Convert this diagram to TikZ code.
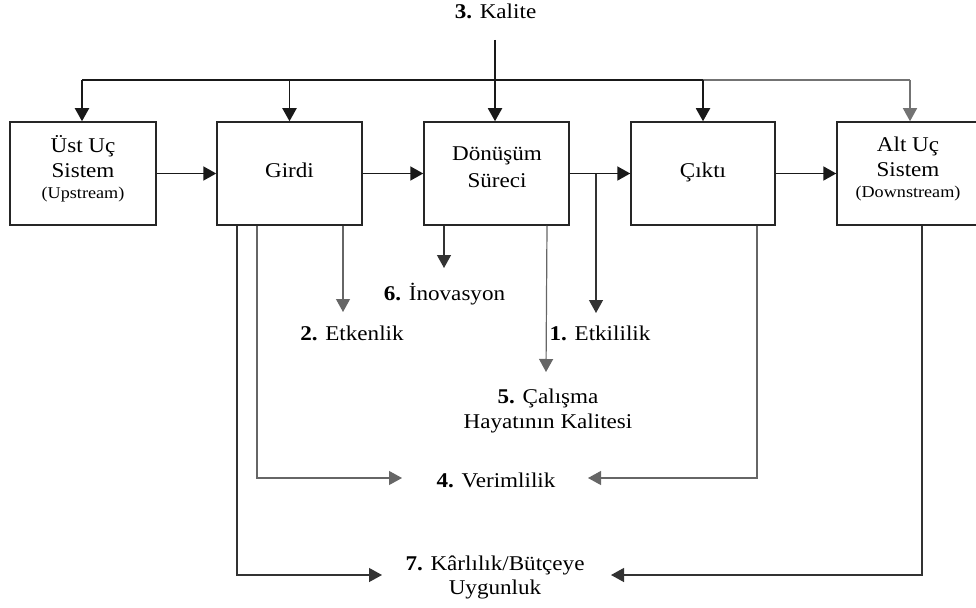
\documentclass[tikz,border=0pt]{standalone}
\usepackage{fontspec}
\setmainfont{Liberation Serif}[FakeStretch=1.1]
\usetikzlibrary{arrows.meta}

\begin{document}
\begin{tikzpicture}[x=1pt,y=-1pt,
  box/.style={draw=black!85, line width=1.5pt, minimum height=103pt, inner sep=0pt},
  txt/.style={font=\fontsize{21}{25}\selectfont, align=center, inner sep=0pt, anchor=base},
  small/.style={font=\fontsize{16.5}{20}\selectfont, inner sep=0pt, anchor=base},
  tip/.style={-{Triangle[length=13pt,width=14pt]}},
  busline/.style={line width=1.9pt, black!90},
  busgray/.style={line width=1.3pt, black!55},
  arr/.style={tip, line width=1.9pt, black!90},
  thin/.style={tip, line width=1.3pt, black!80},
  thingray/.style={tip, line width=1.2pt, black!60},
]
\useasboundingbox (0,0) rectangle (976,607);

% process chain
\node[box, minimum width=146pt] (ust) at (83,173.5) {};
\node[box, minimum width=145pt] (girdi) at (289.5,173.5) {};
\node[box, minimum width=145pt] (donusum) at (496.5,173.5) {};
\node[box, minimum width=144pt] (cikti) at (703,173.5) {};
\node[box, minimum width=150pt] (alt) at (912,173.5) {};

% box captions (multi-line nodes sit on their last baseline)
\node[txt] (ustT) at (83,177) {Üst Uç\\Sistem};
\node[small] (ustS) at (83,198) {(Upstream)};
\node[txt] (girdiT) at (289.5,177) {Girdi};
\node[txt, font=\fontsize{21}{27}\selectfont] (donT) at (497,187) {Dönüşüm\\Süreci};
\node[txt] (ciktiT) at (703,177) {Çıktı};
\node[txt] (altT) at (908,176) {Alt Uç\\Sistem};
\node[small] (altS) at (908,197) {(Downstream)};

% performance criteria
\node[txt] (kalite) at (495.5,19) {\textbf{3.} Kalite};
\node[txt] (inov) at (444.5,300) {\textbf{6.} İnovasyon};
\node[txt] (etken) at (352,340) {\textbf{2.} Etkenlik};
\node[txt] (etkili) at (600,340) {\textbf{1.} Etkililik};
\node[txt] (calisma) at (548,428) {\textbf{5.} Çalışma\\Hayatının Kalitesi};
\node[txt] (verim) at (496,487) {\textbf{4.} Verimlilik};
\node[txt, font=\fontsize{21}{24}\selectfont] (karlilik) at (495,594) {\textbf{7.} Kârlılık/Bütçeye\\Uygunluk};

% quality feed over all stages
\coordinate (ktop) at (495,40);
\coordinate (busL) at (82,80);
\coordinate (busM) at (703,80);
\coordinate (busR) at (910,80);
\draw[busline] (busL) -- (busM);
\draw[busgray] (busM) -- (busR);
\draw[arr] (ktop) -- (ktop |- donusum.north);
\draw[arr] (busL) -- (busL |- ust.north);
\draw[arr] (girdi.north |- busL) -- (girdi.north);
\draw[arr] (busM) -- (busM |- cikti.north);
\draw[busgray] (busR) -- (910,108);
\draw[tip, line width=1.3pt, black!55] (910,107) -- (busR |- alt.north);

% flow between stages
\draw[arr] (ust.east) -- (girdi.west);
\draw[arr] (girdi.east) -- (donusum.west);
\draw[arr] (donusum.east) -- (cikti.west);
\draw[arr] (cikti.east) -- (alt.west);

% branches to the criteria
\coordinate (br) at (596,173.5);
\draw[thin] (br) -- (596,313);
\draw[thingray] (girdi.south -| 343,0) -- (343,312);
\draw[thin] (donusum.south -| 444,0) -- (444,268);
\draw[thingray] (donusum.south -| 547,0) -- (546,372);

\draw[thingray] (girdi.south -| 257,0) |- (402,478);
\draw[thingray] (cikti.south -| 757,0) |- (588,478);
\draw[thin] (girdi.south -| 237,0) |- (382,575);
\draw[thin] (alt.south -| 922,0) |- (611,575);
\end{tikzpicture}
\end{document}
